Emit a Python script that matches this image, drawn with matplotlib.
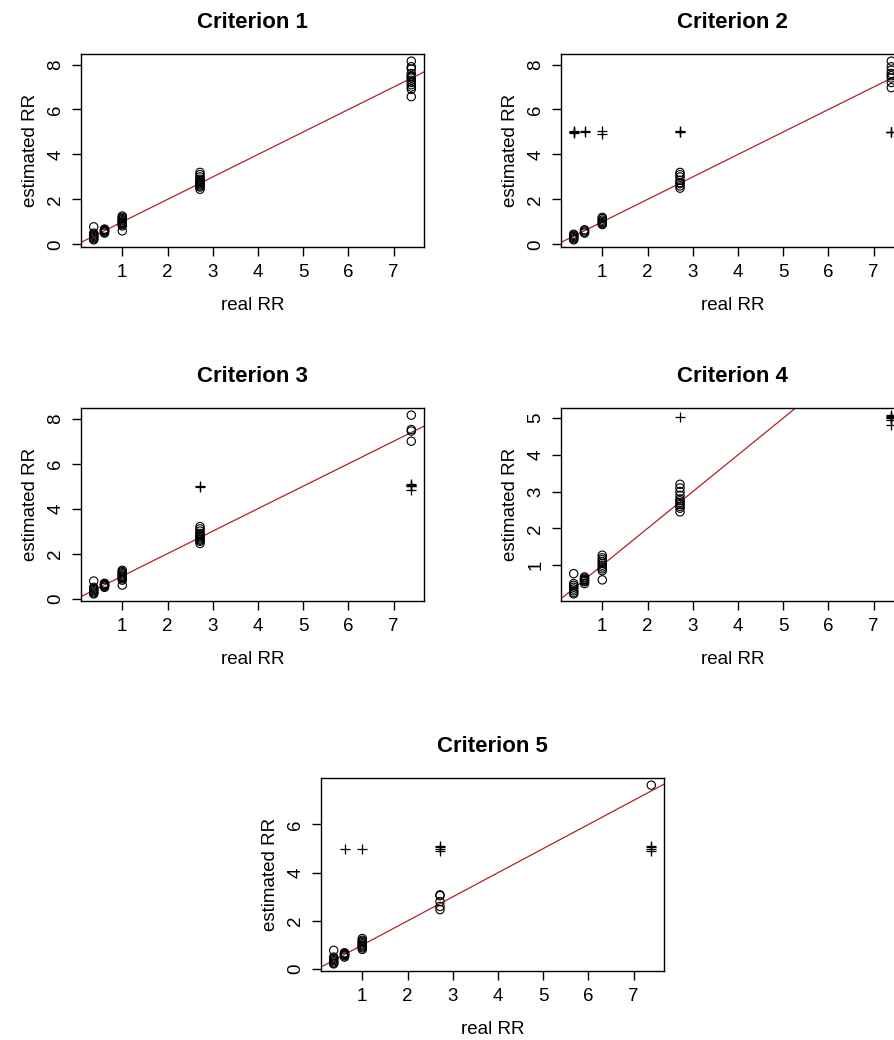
import matplotlib
matplotlib.use("Agg")
import matplotlib.pyplot as plt
import numpy as np

plt.rcParams['font.family'] = ['Liberation Sans', 'DejaVu Sans']

# ---------------- data ----------------
real_rr = [0.368, 0.607, 1.0, 2.718, 7.389]
x_ticks = [1, 2, 3, 4, 5, 6, 7]

# estimated RR (circles), one list per real RR level
crit1_est = [
    [0.2, 0.25, 0.3, 0.35, 0.4, 0.45, 0.5, 0.78],
    [0.5, 0.55, 0.58, 0.6, 0.62, 0.65, 0.68],
    [0.6, 0.82, 0.88, 0.92, 0.97, 1.0, 1.05, 1.1, 1.15, 1.2, 1.26],
    [2.45, 2.55, 2.6, 2.65, 2.7, 2.75, 2.8, 2.85, 2.9, 3.0, 3.1, 3.2],
    [6.57, 6.9, 7.0, 7.1, 7.2, 7.3, 7.4, 7.45, 7.5, 7.6, 7.8, 7.9, 8.15],
]
crit1_fail = [[], [], [], [], []]

crit2_est = [
    [0.2, 0.25, 0.3, 0.35, 0.4, 0.45],
    [0.5, 0.55, 0.6, 0.65],
    [0.88, 0.92, 0.97, 1.02, 1.08, 1.15, 1.2],
    [2.5, 2.6, 2.7, 2.75, 2.85, 3.0, 3.1, 3.2],
    [6.97, 7.2, 7.4, 7.5, 7.6, 7.75, 7.9, 8.15],
]
crit2_fail = [
    [4.95, 5.0, 5.02, 5.05],
    [4.98, 5.05],
    [4.9, 5.05],
    [4.98, 5.0, 5.03],
    [4.98, 5.0, 5.02],
]

crit3_est = [
    [0.21, 0.25, 0.3, 0.35, 0.4, 0.45, 0.5, 0.78],
    [0.5, 0.55, 0.58, 0.6, 0.62, 0.65, 0.68],
    [0.6, 0.82, 0.88, 0.92, 0.97, 1.0, 1.05, 1.1, 1.15, 1.2, 1.26],
    [2.45, 2.55, 2.6, 2.65, 2.7, 2.75, 2.8, 2.85, 2.9, 3.0, 3.1, 3.2],
    [7.0, 7.45, 7.52, 8.16],
]
crit3_fail = [
    [],
    [],
    [],
    [4.98, 5.0],
    [4.82, 5.0, 5.02, 5.05, 5.1],
]

crit4_est = [
    [0.22, 0.25, 0.3, 0.35, 0.4, 0.45, 0.5, 0.77],
    [0.5, 0.55, 0.58, 0.6, 0.62, 0.65, 0.68],
    [0.6, 0.85, 0.9, 0.95, 1.0, 1.05, 1.1, 1.15, 1.2, 1.27],
    [2.45, 2.55, 2.6, 2.65, 2.7, 2.75, 2.8, 2.9, 3.0, 3.1, 3.2],
    [],
]
crit4_fail = [
    [],
    [],
    [],
    [5.02],
    [4.8, 4.95, 5.0, 5.0, 5.02, 5.05, 5.08],
]

crit5_est = [
    [0.22, 0.25, 0.3, 0.35, 0.4, 0.45, 0.5, 0.78],
    [0.5, 0.55, 0.58, 0.6, 0.62, 0.65, 0.68],
    [0.82, 0.88, 0.92, 0.97, 1.0, 1.05, 1.1, 1.15, 1.2, 1.27],
    [2.47, 2.6, 2.8, 3.05, 3.08],
    [7.63],
]
crit5_fail = [
    [],
    [5.0],
    [5.0],
    [4.9, 5.0, 5.05, 5.1],
    [4.9, 5.0, 5.05, 5.1],
]

titles = ["Criterion 1", "Criterion 2", "Criterion 3", "Criterion 4", "Criterion 5"]
y_ticks = [[0, 2, 4, 6, 8], [0, 2, 4, 6, 8], [0, 2, 4, 6, 8], [1, 2, 3, 4, 5], [0, 2, 4, 6]]
est_sets = [crit1_est, crit2_est, crit3_est, crit4_est, crit5_est]
fail_sets = [crit1_fail, crit2_fail, crit3_fail, crit4_fail, crit5_fail]

# ---------------- layout (pixel boxes: left, top, right, bottom) ----------------
W, H = 894, 1040
boxes = [
    (81, 54, 424, 247),
    (561, 54, 904, 247),
    (81, 408, 424, 601),
    (561, 408, 904, 601),
    (321, 778, 664, 971),
]

fig = plt.figure(figsize=(W / 100, H / 100), dpi=100)

FS = 13.5
line_col = "#B22222"


def r_range(vals):
    lo, hi = min(vals), max(vals)
    d = 0.04 * (hi - lo)
    return lo - d, hi + d


for i in range(5):
    l, t, r, b = boxes[i]
    ax = fig.add_axes([l / W, 1 - b / H, (r - l) / W, (b - t) / H])
    est = est_sets[i]
    fail = fail_sets[i]
    cx, cy, px, py = [], [], [], []
    for k, xv in enumerate(real_rr):
        cx += [xv] * len(est[k])
        cy += est[k]
        px += [xv] * len(fail[k])
        py += fail[k]
    ax.scatter(cx, cy, s=36, facecolors='none', edgecolors='black', linewidths=0.8, zorder=3)
    if px:
        ax.scatter(px, py, s=60, marker='+', color='black', linewidths=0.9, zorder=3)
    ax.axline((0, 0), slope=1, color=line_col, lw=0.9, zorder=2)

    ax.set_xlim(*r_range(real_rr))
    ax.set_ylim(*r_range(cy + py))
    ax.set_xticks(x_ticks)
    ax.set_yticks(y_ticks[i])
    ax.tick_params(direction='out', length=6.5, width=1.0, pad=5.5, labelsize=FS, color='black')
    ax.tick_params(axis='y', labelrotation=90)
    for lbl in ax.get_yticklabels():
        lbl.set_va('center')
    for sp in ax.spines.values():
        sp.set_linewidth(1.0)
        sp.set_color('black')
    ax.set_xlabel("real RR", fontsize=FS)
    ax.set_ylabel("estimated RR", fontsize=FS)
    ax.xaxis.set_label_coords(0.5, -0.257)
    ax.yaxis.set_label_coords(-0.122, 0.5)
    ax.set_title(titles[i], fontsize=16, fontweight='bold', pad=19)

fig.savefig("out.png", dpi=100)
